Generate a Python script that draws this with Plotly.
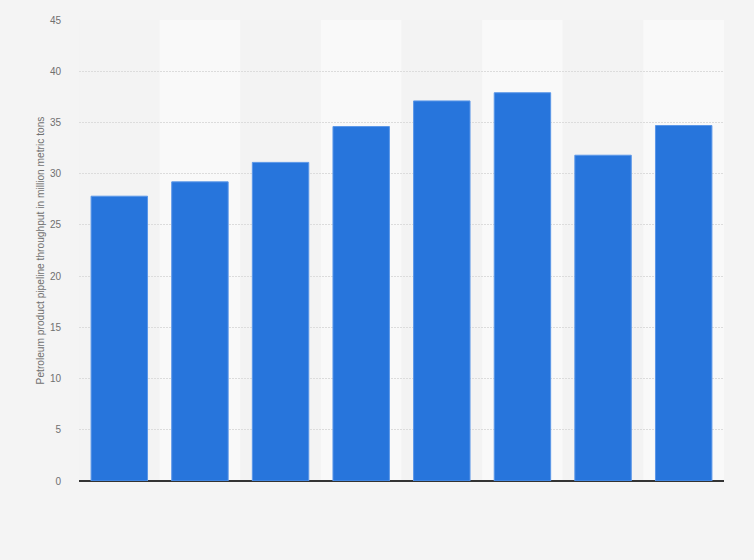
import plotly.graph_objects as go

# Data (x labels are not shown in the reference)
categories = ["2012", "2013", "2014", "2015", "2016", "2017", "2018", "2019"]
throughput = [27.8, 29.2, 31.1, 34.6, 37.1, 37.9, 31.8, 34.7]

fig = go.Figure(go.Bar(
    x=categories,
    y=throughput,
    marker=dict(color="#2775dc", line=dict(color="#5b97e8", width=1)),
    hoverinfo="x+y",
))

# alternating column bands
shapes = []
for i in range(len(categories)):
    shapes.append(dict(
        type="rect", xref="x", yref="paper", layer="below",
        x0=i - 0.5, x1=i + 0.5, y0=0, y1=1,
        fillcolor="#f9f9f9" if i % 2 else "#f3f3f3",
        line=dict(width=0),
    ))

fig.update_layout(
    width=754, height=560,
    paper_bgcolor="#f4f4f4",
    plot_bgcolor="#f3f3f3",
    margin=dict(l=79, r=30, t=20, b=79),
    bargap=0.3,
    shapes=shapes,
    showlegend=False,
    font=dict(family="Arial, Liberation Sans, sans-serif", color="#707070", size=10),
    xaxis=dict(showticklabels=False, showgrid=False, ticks="",
               range=[-0.5, len(categories) - 0.5]),
    yaxis=dict(
        range=[0, 45], dtick=5,
        showgrid=True, gridcolor="#dcdcdc", griddash="2px,1px", gridwidth=1,
        zeroline=True, zerolinecolor="#333333", zerolinewidth=1.5,
        tickfont=dict(size=10, color="#707070"),
        ticks="outside", ticklen=15, tickcolor="rgba(0,0,0,0)",
        title=dict(text="Petroleum product pipeline throughput in million metric tons",
                   font=dict(size=10.2, color="#707070"), standoff=3),
    ),
)

# drop the default page margin so the figure sits at the window corner
fig.write_html("out.html", config={"displayModeBar": False},
               post_script="document.body.style.margin='0';")
